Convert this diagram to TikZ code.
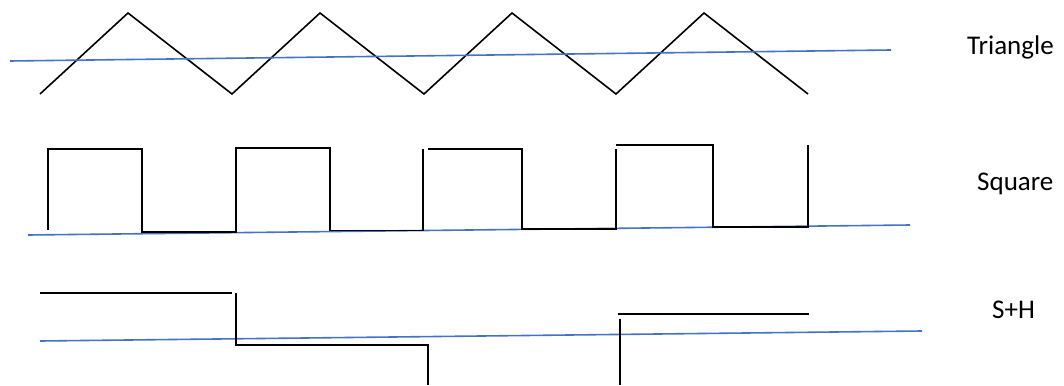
\documentclass[tikz,border=0pt]{standalone}
\usepackage{fontspec}
\setmainfont{Carlito}
\definecolor{refBlue}{RGB}{68,114,196}

\begin{document}
\begin{tikzpicture}[
    x=1pt, y=-1pt,
    waveLine/.style={
        draw=black,
        line width=1.6pt
    },
    refLine/.style={
        draw=refBlue,
        line width=1.6pt
    },
    sigLabel/.style={
        anchor=base west,
        inner sep=0pt,
        font=\fontsize{27pt}{32pt}\selectfont
    }
]
\useasboundingbox (0,0) rectangle (1064,385);

% ==================== TRIANGLE ====================
\draw[waveLine] (40,94) -- (128,13) -- (232,94) -- (320,13) -- (424,94)
    -- (512,13) -- (616,94) -- (704,13) -- (808,94);
\draw[refLine] (10,61) -- (891,50);
\node[sigLabel] (lblTriangle) at (967,55) {Triangle};

% ==================== SQUARE ====================
\draw[refLine] (28,235) -- (910,225);
\draw[waveLine] (48,230) -- (48,149) -- (142,149) -- (142,232) -- (236,232)
    -- (236,148) -- (330,148) -- (330,230.5) -- (423,230.5) -- (423,149);
\draw[waveLine] (428,149) -- (522,149) -- (522,229) -- (616,229) -- (616,149);
\draw[waveLine] (616,145) -- (713,145) -- (713,227) -- (808,227) -- (808,145);
\node[sigLabel] (lblSquare) at (977,190) {Square};

% ==================== S+H ====================
\draw[refLine] (40,341) -- (922,331);
\draw[waveLine] (40,293) -- (232,293);
\draw[waveLine] (236,293) -- (236,345) -- (428,345) -- (428,385);
\draw[waveLine] (620,385) -- (620,319);
\draw[waveLine] (618,314) -- (809,314);
\node[sigLabel] (lblSH) at (992,318) {S+H};

\end{tikzpicture}
\end{document}
